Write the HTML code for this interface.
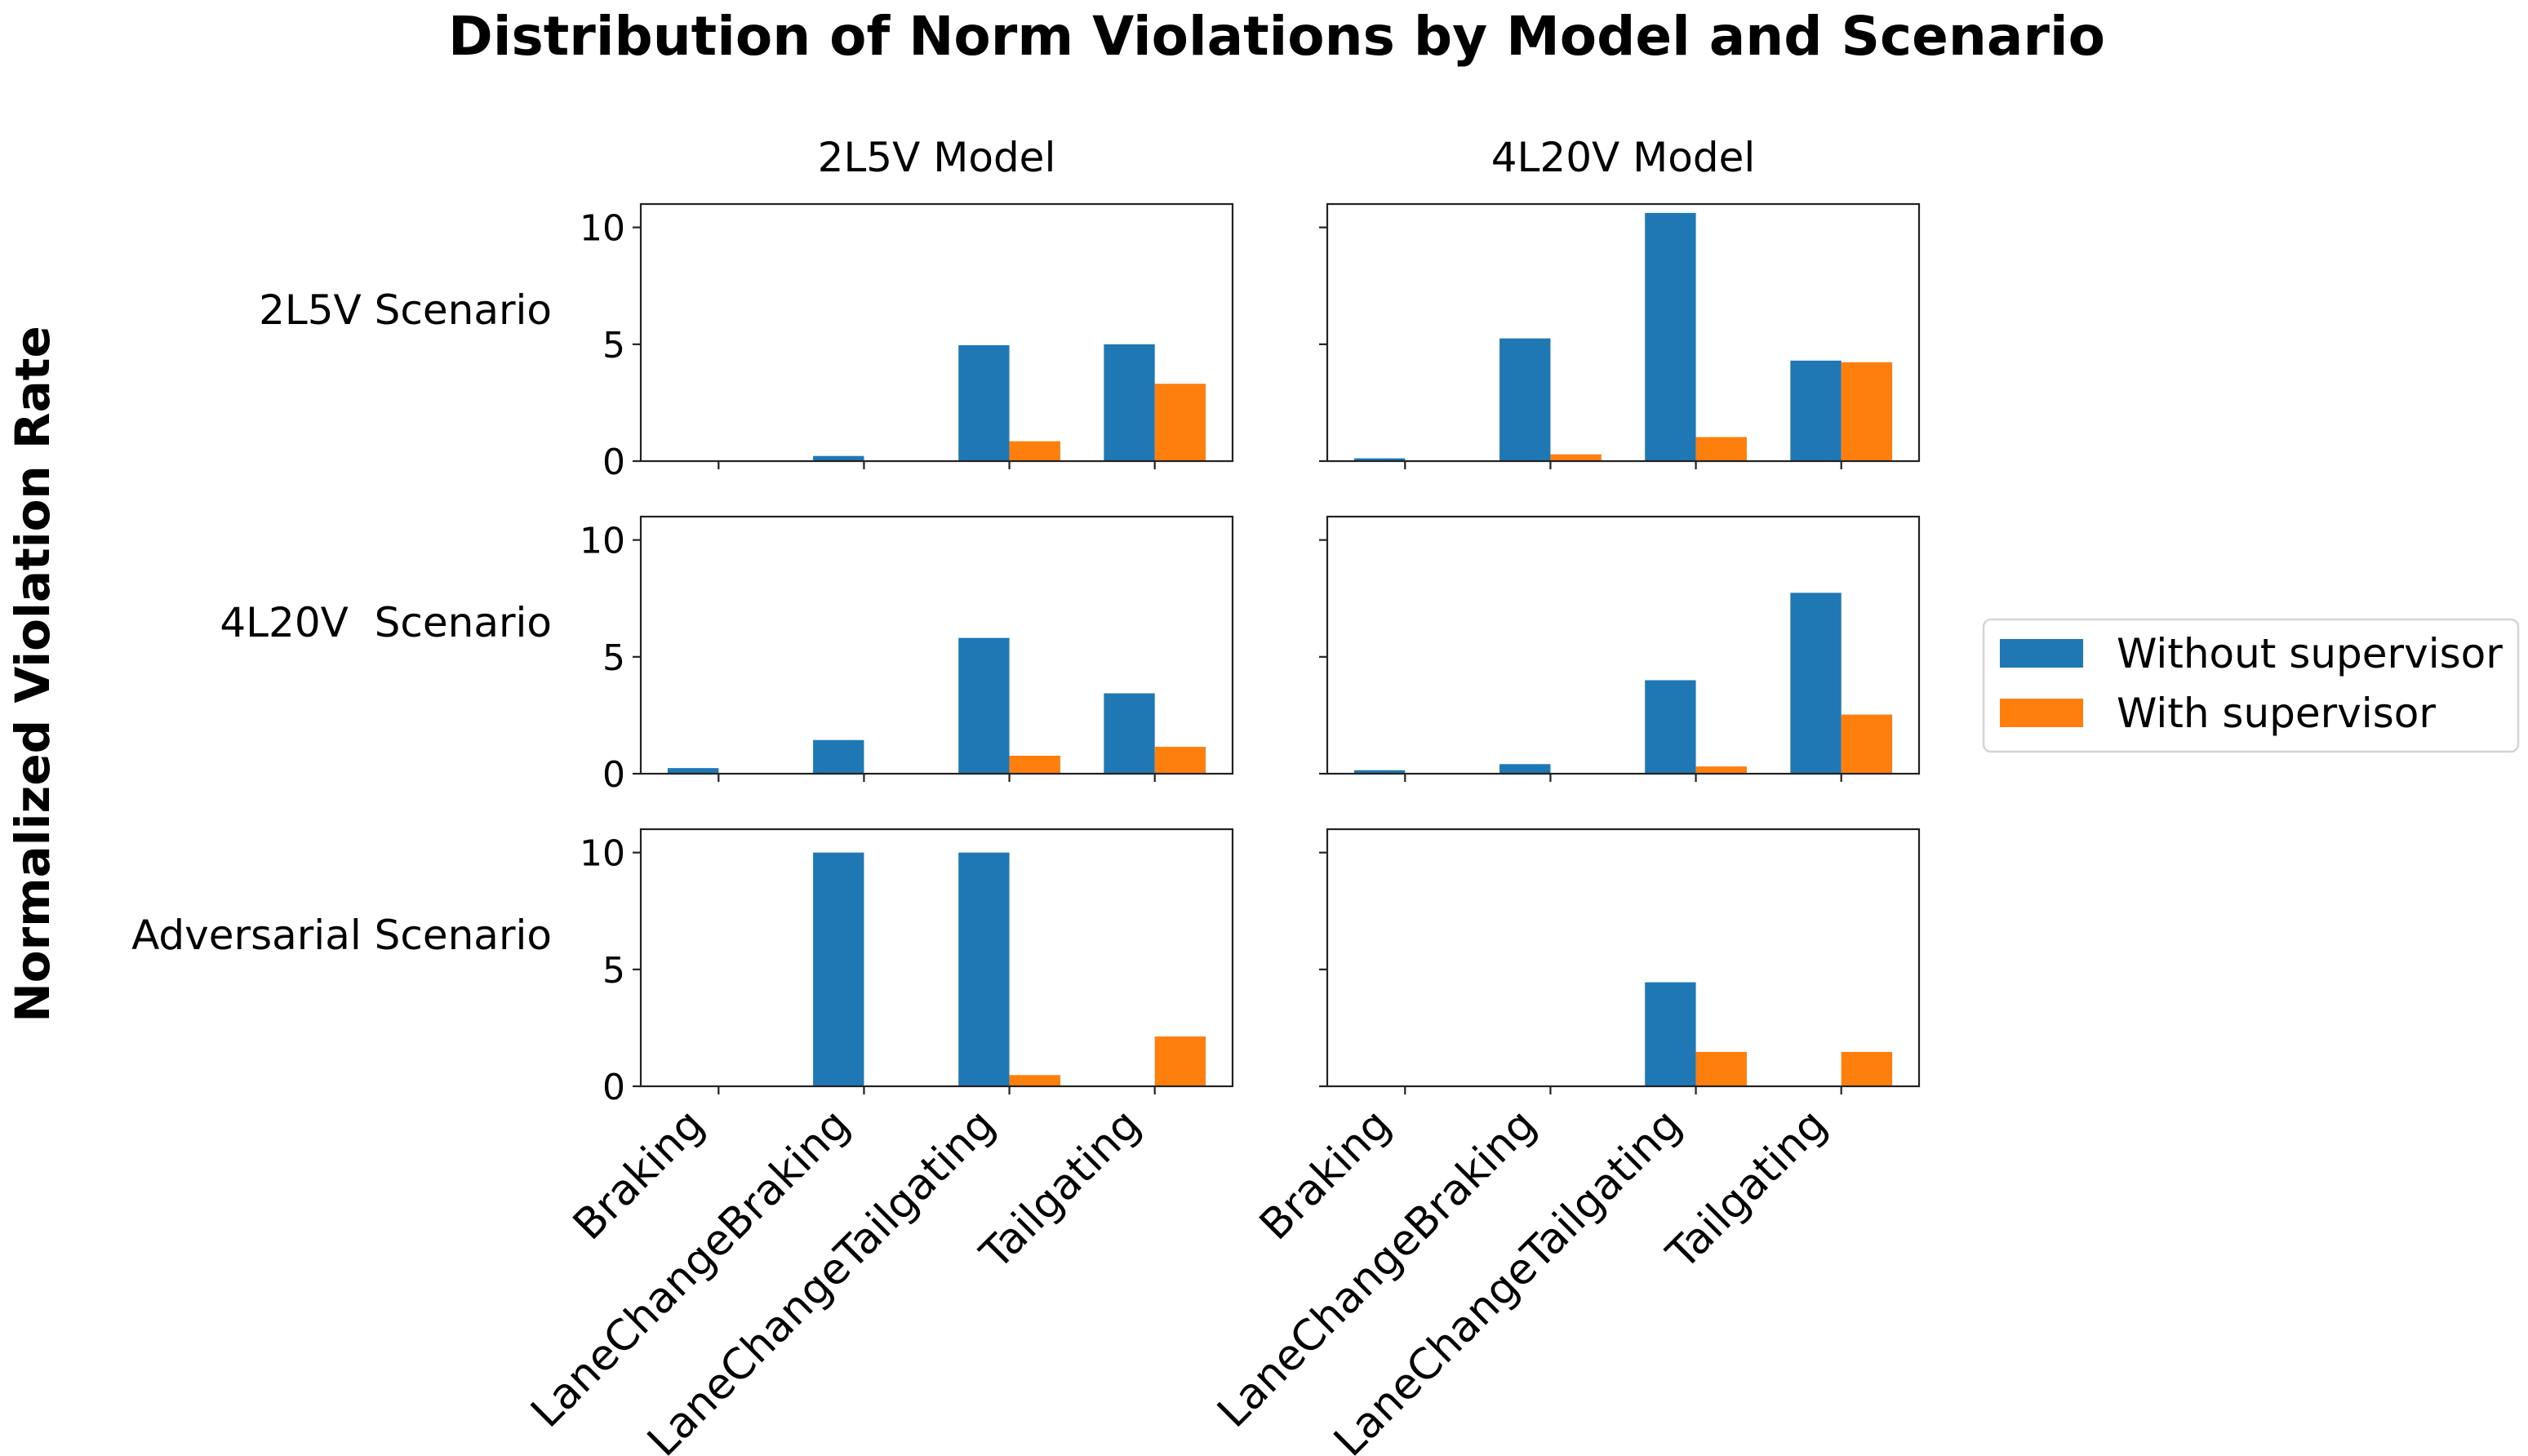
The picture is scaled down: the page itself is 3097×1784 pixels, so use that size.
<!DOCTYPE html>
<html><head><meta charset="utf-8">
<style>
html,body{margin:0;padding:0;background:#fff;}
svg{display:block;font-family:"DejaVu Sans","Liberation Sans",sans-serif;}
</style></head>
<body>
<svg id="chart" width="3097" height="1784" viewBox="0 0 3097 1784" xmlns="http://www.w3.org/2000/svg">
<rect width="3097" height="1784" fill="#fff"/>
<text x="1564" y="67" text-anchor="middle" font-size="66" font-weight="bold">Distribution of Norm Violations by Model and Scenario</text>
<text transform="translate(60,826) rotate(-90)" text-anchor="middle" font-size="58" font-weight="bold">Normalized Violation Rate</text>
<g id="panels"></g>
<g>
<rect x="2430" y="759" width="655" height="162" rx="9" fill="#fff" stroke="#d4d4d4" stroke-width="2.5"/>
<rect x="2450" y="783" width="102" height="35" fill="#1f77b4"/>
<text x="2593" y="818" font-size="50">Without supervisor</text>
<rect x="2450" y="856" width="102" height="35" fill="#ff7f0e"/>
<text x="2593" y="891" font-size="50">With supervisor</text>
</g>
</svg>
<script>
const categories = ["Braking","LaneChangeBraking","LaneChangeTailgating","Tailgating"];
const modelTitles = ["2L5V Model","4L20V Model"];
const scenarioLabels = ["2L5V Scenario","4L20V  Scenario","Adversarial Scenario"];
const yTicks = [0,5,10];
// [row][col]
const withoutSup = [
  [[0.02,0.22,4.96,5.0],[0.12,5.25,10.62,4.30]],
  [[0.24,1.44,5.81,3.44],[0.15,0.41,4.0,7.74]],
  [[0,10,10,0],[0,0,4.45,0]]
];
const withSup = [
  [[0,0.02,0.85,3.31],[0,0.29,1.03,4.23]],
  [[0,0,0.77,1.15],[0,0,0.31,2.53]],
  [[0,0,0.48,2.13],[0,0,1.47,1.47]]
];

const NS="http://www.w3.org/2000/svg";
const g=document.getElementById('panels');
const colX=[785,1626], panelW=725;
const rowY=[250,633,1016], panelH=315;
const xMin=-0.535, xMax=3.535, yMax=11.0, barW=0.35;
function mk(tag,attrs){const e=document.createElementNS(NS,tag);for(const k in attrs)e.setAttribute(k,attrs[k]);return e;}

for(let c=0;c<2;c++){
  const t=mk('text',{x:colX[c]+panelW/2,y:210,'text-anchor':'middle','font-size':50});
  
  
  t.textContent=modelTitles[c]; g.appendChild(t);
}
for(let r=0;r<3;r++){
  const t=mk('text',{x:676,y:rowY[r]+147,'text-anchor':'end','font-size':50});
  t.setAttribute('xml:space','preserve');
  t.style.whiteSpace='pre';
  
  
  t.textContent=scenarioLabels[r]; g.appendChild(t);
  for(let c=0;c<2;c++){
    const x0=colX[c], y0=rowY[r];
    const sx=v=>x0+(v-xMin)/(xMax-xMin)*panelW;
    const sy=v=>y0+panelH-v/yMax*panelH;
    const pg=mk('g',{});
    
    
    g.appendChild(pg);
    for(let i=0;i<categories.length;i++){
      const b=withoutSup[r][c][i], o=withSup[r][c][i];
      const rb=mk('rect',{x:sx(i-barW),y:sy(b),width:sx(i)-sx(i-barW),height:sy(0)-sy(b),fill:'#1f77b4'});
      
      
      pg.appendChild(rb);
      const ro=mk('rect',{x:sx(i),y:sy(o),width:sx(i+barW)-sx(i),height:sy(0)-sy(o),fill:'#ff7f0e'});
      
      
      pg.appendChild(ro);
      const tk=mk('line',{x1:sx(i),x2:sx(i),y1:y0+panelH,y2:y0+panelH+10,stroke:'#222','stroke-width':2.2});
      
      
      pg.appendChild(tk);
      if(r===2){
        const ax=sx(i)-15, ay=y0+panelH+22+28;
        const lt=mk('text',{x:ax,y:ay,'text-anchor':'end','font-size':52,transform:`rotate(-45 ${ax} ${ay})`});
        
        
        lt.textContent=categories[i]; pg.appendChild(lt);
      }
    }
    for(const v of yTicks){
      const tk=mk('line',{x1:x0-10,x2:x0,y1:sy(v),y2:sy(v),stroke:'#222','stroke-width':2.2});
      
      
      pg.appendChild(tk);
      if(c===0){
        const lt=mk('text',{x:x0-19,y:sy(v)+16,'text-anchor':'end','font-size':44});
        
        
        lt.textContent=v; pg.appendChild(lt);
      }
    }
    const fr=mk('rect',{x:x0,y:y0,width:panelW,height:panelH,fill:'none',stroke:'#222','stroke-width':2.2});
    
    
    pg.appendChild(fr);
  }
}
</script>
</body></html>
